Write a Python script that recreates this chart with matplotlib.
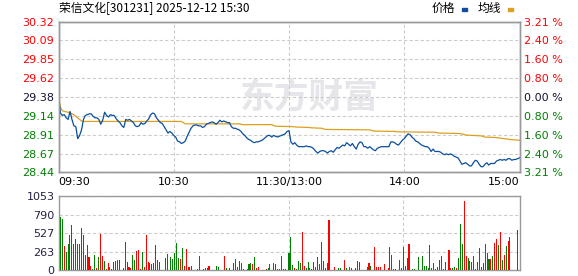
import matplotlib
matplotlib.use("Agg")
import matplotlib.pyplot as plt
from matplotlib.patches import Rectangle

# ---------------- data ----------------
title = "荣信文化[301231] 2025-12-12 15:30"
prev_close = 29.38
price_ticks = [28.44, 28.67, 28.91, 29.14, 29.38, 29.62, 29.85, 30.09, 30.32]
pct_labels = ["3.21 %", "2.40 %", "1.60 %", "0.80 %", "0.00 %",
              "0.80 %", "1.60 %", "2.40 %", "3.21 %"]
vol_ticks = [0, 263, 527, 790, 1053]
time_ticks = [0, 60, 120, 180, 240]
time_labels = ["09:30", "10:30", "11:30/13:00", "14:00", "15:00"]
legend_names = ["价格", "均线"]

price = [
    29.42, 29.18, 29.15, 29.16, 29.12, 29.10, 29.20, 29.10, 29.02, 29.01,
    28.86, 28.90, 28.97, 29.10, 29.15, 29.16, 29.17, 29.17, 29.14, 29.12,
    29.12, 29.10, 29.04, 29.09, 29.19, 29.15, 29.13, 29.16, 29.15, 29.15,
    29.11, 29.08, 29.06, 29.02, 29.00, 29.10, 29.09, 29.10, 29.08, 29.06,
    29.02, 29.01, 29.02, 29.06, 29.04, 29.05, 29.08, 29.11, 29.16, 29.18,
    29.17, 29.12, 29.09, 29.06, 29.05, 29.01, 28.97, 28.93, 28.95, 28.93,
    28.90, 28.88, 28.83, 28.82, 28.80, 28.81, 28.83, 28.89, 28.94, 28.99,
    29.02, 29.03, 29.03, 29.02, 29.02, 29.00, 29.01, 29.04, 29.05, 29.06,
    29.07, 29.06, 29.04, 29.06, 29.09, 29.07, 29.08, 29.07, 29.06, 29.06,
    29.01, 28.99, 28.99, 28.98, 28.97, 28.95, 28.92, 28.90, 28.87, 28.85,
    28.84, 28.82, 28.81, 28.82, 28.82, 28.83, 28.84, 28.86, 28.88, 28.90,
    28.90, 28.88, 28.90, 28.89, 28.88, 28.89, 28.90, 28.91, 28.92, 28.95,
    28.96, 28.82, 28.79, 28.81, 28.78, 28.76, 28.76, 28.76, 28.76, 28.77,
    28.76, 28.76, 28.75, 28.73, 28.70, 28.68, 28.70, 28.71, 28.71, 28.70,
    28.68, 28.70, 28.71, 28.69, 28.72, 28.75, 28.74, 28.76, 28.78, 28.77,
    28.81, 28.79, 28.77, 28.80, 28.76, 28.73, 28.79, 28.82, 28.81, 28.76,
    28.76, 28.74, 28.76, 28.74, 28.72, 28.71, 28.74, 28.75, 28.76, 28.76,
    28.76, 28.76, 28.76, 28.82, 28.82, 28.81, 28.79, 28.78, 28.81, 28.84,
    28.86, 28.89, 28.92, 28.91, 28.88, 28.86, 28.83, 28.82, 28.80, 28.78,
    28.77, 28.76, 28.76, 28.74, 28.70, 28.73, 28.70, 28.70, 28.70, 28.69,
    28.67, 28.66, 28.67, 28.66, 28.67, 28.66, 28.64, 28.63, 28.62, 28.58,
    28.54, 28.55, 28.56, 28.54, 28.52, 28.52, 28.56, 28.59, 28.58, 28.54,
    28.51, 28.51, 28.54, 28.56, 28.53, 28.55, 28.55, 28.55, 28.58, 28.59,
    28.60, 28.59, 28.60, 28.59, 28.61, 28.61, 28.59, 28.60, 28.60, 28.61,
    28.62,
]

avg_minute = [0, 1, 2, 3, 5, 8, 10, 12, 13, 64, 66, 94, 96, 111, 113,
              122, 124, 130, 132, 137, 139, 162, 164, 175, 177,
              196, 198, 208, 210, 212, 220, 222, 227, 229, 232, 235, 240]
avg_price = [29.40, 29.25, 29.21, 29.20, 29.19, 29.16, 29.12, 29.08, 29.075,
             29.075, 29.045, 29.045, 29.035, 29.035, 29.015,
             29.01, 29.005, 29.0, 28.995, 28.99, 28.975,
             28.97, 28.955, 28.95, 28.945,
             28.94, 28.93, 28.925, 28.92, 28.905,
             28.895, 28.88, 28.875, 28.87, 28.86, 28.85, 28.84]

volume = [
    755, 725, 346, 258, 375, 506, 638, 375, 448, 375,
    375, 609, 506, 214, 360, 185, 68, 15, 214, 29,
    185, 520, 200, 127, 15, 97, 53, 24, 112, 127,
    141, 141, 10, 39, 404, 112, 53, 39, 214, 141,
    273, 287, 24, 258, 53, 506, 112, 97, 83, 97,
    360, 141, 112, 10, 10, 170, 229, 10, 185, 156,
    243, 390, 170, 156, 316, 55, 300, 53, 53, 68,
    10, 10, 24, 200, 10, 24, 39, 39, 68, 10,
    10, 10, 68, 53, 10, 10, 200, 39, 10, 39,
    10, 97, 156, 53, 127, 97, 24, 10, 24, 83,
    97, 83, 185, 39, 53, 10, 10, 10, 24, 39,
    83, 10, 97, 83, 24, 24, 200, 24, 24, 10,
    248, 480, 78, 29, 15, 127, 102, 550, 68, 29,
    112, 29, 15, 112, 53, 185, 83, 404, 127, 39,
    97, 711, 10, 10, 53, 10, 29, 39, 10, 141,
    39, 10, 53, 39, 10, 39, 127, 112, 10, 10,
    10, 53, 97, 68, 10, 331, 53, 53, 53, 10,
    83, 10, 39, 331, 214, 24, 24, 10, 141, 39,
    331, 68, 170, 375, 10, 24, 24, 10, 185, 10,
    200, 68, 68, 39, 360, 39, 97, 24, 53, 141,
    200, 24, 112, 10, 287, 39, 39, 53, 39, 170,
    653, 375, 989, 200, 170, 127, 112, 200, 24, 112,
    316, 53, 97, 375, 243, 156, 156, 200, 390, 448,
    360, 550, 141, 214, 346, 419, 477, 0, 0, 0,
    580,
]
# 1 = up (red), 0 = down (green)
vol_up = [
    0, 0, 1, 0, 0, 1, 0, 1, 0, 0,
    0, 1, 1, 1, 1, 1, 1, 0, 0, 1,
    0, 1, 1, 0, 1, 1, 0, 0, 0, 0,
    0, 0, 0, 0, 1, 0, 1, 1, 0, 0,
    1, 1, 1, 0, 1, 1, 1, 1, 1, 1,
    0, 0, 0, 0, 0, 0, 0, 1, 0, 0,
    0, 0, 0, 1, 0, 1, 1, 1, 1, 1,
    1, 1, 0, 1, 0, 0, 1, 1, 1, 0,
    0, 0, 0, 0, 0, 0, 1, 0, 1, 0,
    0, 0, 1, 0, 0, 1, 0, 0, 0, 0,
    0, 1, 0, 1, 1, 1, 1, 1, 1, 0,
    1, 0, 0, 1, 0, 0, 1, 1, 1, 1,
    0, 0, 0, 1, 0, 0, 0, 1, 1, 0,
    0, 0, 1, 0, 0, 0, 1, 1, 1, 0,
    0, 1, 1, 0, 1, 0, 0, 0, 1, 1,
    0, 1, 1, 0, 1, 0, 1, 0, 0, 0,
    0, 1, 1, 0, 0, 1, 1, 1, 1, 0,
    1, 0, 1, 1, 1, 0, 0, 0, 1, 1,
    1, 1, 1, 1, 0, 0, 0, 0, 0, 1,
    0, 0, 0, 0, 0, 1, 0, 0, 1, 1,
    0, 0, 1, 0, 1, 1, 0, 0, 1, 0,
    0, 0, 1, 1, 0, 0, 1, 1, 0, 1,
    0, 0, 1, 1, 1, 0, 1, 0, 1, 1,
    0, 1, 0, 1, 0, 1, 0, 1, 1, 1,
    1,
]

# ---------------- style ----------------
RED = "#ff0000"
GREEN = "#008000"
BLUE = "#0a4fa0"
GOLD = "#dca01e"
GRID = "#cccccc"
SPINE = "#999999"
CJK = ["Noto Sans CJK SC", "DejaVu Sans"]
plt.rcParams["font.family"] = ["DejaVu Sans"]

W, H = 578, 276
fig = plt.figure(figsize=(W / 100, H / 100), dpi=100)


def frame(x0, y0, x1, y1):
    return [x0 / W, 1 - y1 / H, (x1 - x0) / W, (y1 - y0) / H]


axp = fig.add_axes(frame(58.5, 21.7, 519.5, 172.3))
axv = fig.add_axes(frame(58.5, 196.3, 519.5, 270.3))

# ---- price panel ----
x = list(range(len(price)))
axp.plot(x, price, color=BLUE, lw=0.9, zorder=3)
axp.plot(avg_minute, avg_price, color=GOLD, lw=0.9, zorder=2.5)
axp.set_xlim(0, 240)
axp.set_ylim(price_ticks[0], price_ticks[-1])
axp.set_yticks(price_ticks)
axp.set_yticklabels([f"{t:.2f}" for t in price_ticks])
axp.set_xticks(time_ticks)
axp.set_xticklabels(time_labels)
axp.tick_params(axis="both", length=0, labelsize=8)
axp.tick_params(axis="y", pad=3)
axp.tick_params(axis="x", pad=3.5)
xl = axp.get_xticklabels()
xl[0].set_horizontalalignment("left")
xl[-1].set_horizontalalignment("right")


def tick_color(t):
    if t > prev_close + 1e-9:
        return RED
    if t < prev_close - 1e-9:
        return GREEN
    return "#111133"


for t, lab in zip(price_ticks, axp.get_yticklabels()):
    lab.set_color(tick_color(t))
axp.grid(True, color=GRID, linestyle=(0, (3, 2)), linewidth=0.8)

axr = axp.twinx()
axr.set_ylim(price_ticks[0], price_ticks[-1])
axr.set_yticks(price_ticks)
axr.set_yticklabels(pct_labels)
axr.tick_params(axis="y", length=0, labelsize=8, pad=3)
for t, lab in zip(price_ticks, axr.get_yticklabels()):
    lab.set_color(tick_color(t))

for a in (axp, axr, axv):
    for s in a.spines.values():
        s.set_color(SPINE)
        s.set_linewidth(1.0)

# watermark
axp.text(0.545, 0.5, "东方财富", transform=axp.transAxes, ha="center",
         va="center", fontsize=25, fontweight="bold", color="#e6e6ea",
         family=CJK, zorder=0)

# ---- volume panel ----
bar_colors = [RED if u else GREEN for u in vol_up]
axv.bar(range(len(volume)), volume, width=0.55, color=bar_colors,
        linewidth=0, zorder=3, antialiased=False)
axv.set_xlim(-1, 241)
axv.set_ylim(vol_ticks[0], vol_ticks[-1])
axv.set_yticks(vol_ticks)
axv.set_yticklabels([str(v) for v in vol_ticks])
axv.set_xticks(time_ticks[1:-1])
axv.set_xticklabels([])
axv.tick_params(axis="both", length=0, labelsize=8, pad=3)
for lab in axv.get_yticklabels():
    lab.set_color("#222244")
axv.grid(True, color=GRID, linestyle=(0, (3, 2)), linewidth=0.8)

# ---- header ----
fig.text(59 / W, 1 - 8.5 / H, title, fontsize=8.5, va="center",
         ha="left", family=CJK, color="#000000")
fig.text(432 / W, 1 - 8.5 / H, legend_names[0], fontsize=8.5,
         va="center", ha="left", family=CJK)
fig.text(478 / W, 1 - 8.5 / H, legend_names[1], fontsize=8.5,
         va="center", ha="left", family=CJK)
fig.patches.append(Rectangle((462 / W, 1 - 11 / H), 5 / W, 3 / H,
                             transform=fig.transFigure, color=BLUE))
fig.patches.append(Rectangle((508 / W, 1 - 11 / H), 5 / W, 3 / H,
                             transform=fig.transFigure, color=GOLD))

fig.savefig("out.png", dpi=100)
